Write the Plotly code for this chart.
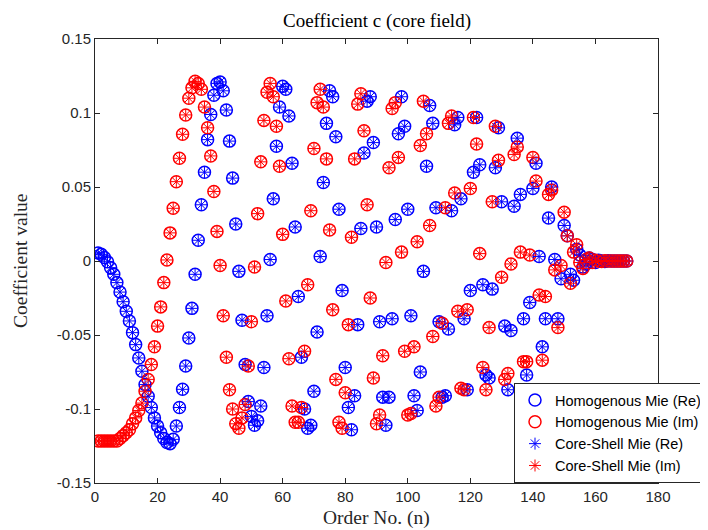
import plotly.graph_objects as go

order_n = list(range(1, 171))

coef_re = [
    0.0054, 0.0045, 0.0023, -0.0005, -0.0045, -0.009, -0.0146, -0.021, -0.0275, -0.034,
    -0.0405, -0.0484, -0.0565, -0.0655, -0.0745, -0.0835, -0.0914, -0.099, -0.106, -0.1115,
    -0.116, -0.120, -0.1227, -0.1234, -0.1205, -0.1115, -0.099, -0.0867, -0.071, -0.052,
    -0.032, -0.009, 0.014, 0.038, 0.060, 0.082, 0.099, 0.112, 0.120, 0.121,
    0.115, 0.102, 0.081, 0.056, 0.025, -0.007, -0.040, -0.070, -0.095, -0.105,
    -0.111, -0.108, -0.098, -0.072, -0.037, 0.001, 0.042, 0.0775, 0.104, 0.118,
    0.116, 0.098, 0.066, 0.023, -0.024, -0.065, -0.100, -0.113, -0.111, -0.088,
    -0.048, 0.003, 0.053, 0.093, 0.115, 0.111, 0.084, 0.035, -0.020, -0.072,
    -0.099, -0.114, -0.091, -0.043, 0.022, 0.073, 0.108, 0.111, 0.080, 0.023,
    -0.041, -0.092, -0.111, -0.092, -0.039, 0.028, 0.086, 0.111, 0.091, 0.035,
    -0.037, -0.091, -0.101, -0.075, -0.007, 0.064, 0.105, 0.093, 0.036, -0.041,
    -0.092, -0.091, -0.046, 0.034, 0.092, 0.097, 0.042, -0.039, -0.087, -0.020,
    0.060, 0.097, 0.065, -0.016, -0.077, -0.079, -0.019, 0.063, 0.090, 0.040,
    -0.044, -0.087, -0.047, 0.037, 0.083, 0.045, -0.039, -0.077, -0.028, 0.049,
    0.066, 0.003, -0.058, -0.039, 0.029, 0.050, 0.001, -0.039, -0.012, 0.024,
    0.017, -0.009, -0.013, 0.008, 0.004, -0.004, -0.002, 0.002, 0.001, -0.001,
    0.0005, 0.0, -0.0003, 0.0002, 0.0, 0.0, 0.0, 0.0, 0.0, 0.0,
]

coef_im = [
    -0.1216, -0.1216, -0.1216, -0.1216, -0.1216, -0.1216, -0.1216, -0.120, -0.118, -0.116,
    -0.114, -0.110, -0.106, -0.101, -0.096, -0.088, -0.080, -0.070, -0.058, -0.044,
    -0.031, -0.0146, 0.0007, 0.019, 0.0356, 0.0536, 0.0694, 0.0856, 0.0987, 0.110,
    0.117, 0.1214, 0.120, 0.116, 0.104, 0.090, 0.071, 0.047, 0.020, -0.003,
    -0.037, -0.065, -0.087, -0.100, -0.110, -0.113, -0.106, -0.097, -0.071, -0.041,
    -0.004, 0.032, 0.067, 0.095, 0.114, 0.120, 0.111, 0.091, 0.064, 0.018,
    -0.027, -0.066, -0.098, -0.109, -0.109, -0.099, -0.061, -0.016, 0.034, 0.076,
    0.107, 0.116, 0.104, 0.069, 0.021, -0.033, -0.080, -0.109, -0.113, -0.089,
    -0.043, 0.016, 0.069, 0.106, 0.113, 0.088, 0.038, -0.025, -0.079, -0.110,
    -0.104, -0.064, -0.001, 0.063, 0.103, 0.107, 0.070, 0.006, -0.061, -0.104,
    -0.103, -0.058, 0.013, 0.078, 0.108, 0.086, 0.024, -0.051, -0.098, -0.092,
    -0.042, 0.036, 0.093, 0.098, 0.046, -0.034, -0.086, -0.087, -0.033, 0.049,
    0.097, 0.079, 0.005, -0.072, -0.087, -0.045, 0.040, 0.091, 0.068, -0.011,
    -0.080, -0.076, -0.002, 0.072, 0.077, 0.006, -0.068, -0.068, 0.004, 0.070,
    0.054, -0.023, -0.067, -0.024, 0.045, 0.048, -0.006, -0.045, -0.003, 0.033,
    0.017, -0.015, 0.006, 0.011, -0.001, -0.005, 0.001, 0.002, -0.001, 0.0005,
    0.0, -0.0003, 0.0002, 0.0, 0.0, 0.0, 0.0, 0.0, 0.0, 0.0,
]

# core-shell solution coincides with the homogeneous one
cs_re = list(coef_re)
cs_im = list(coef_im)

x_ticks = [0, 20, 40, 60, 80, 100, 120, 140, 160, 180]
y_ticks = [-0.15, -0.1, -0.05, 0, 0.05, 0.1, 0.15]
y_tick_text = ["-0.15", "-0.1", "-0.05", "0", "0.05", "0.1", "0.15"]

series_names = ["Homogenous Mie (Re)", "Homogenous Mie (Im)",
                "Core-Shell Mie (Re)", "Core-Shell Mie (Im)"]

AX = "#262626"
SANS = "Liberation Sans"
SERIF = "Liberation Serif"

fig = go.Figure()
fig.add_trace(go.Scatter(x=order_n, y=coef_re, mode="markers", name=series_names[0],
                         marker=dict(symbol="circle-open", size=12, color="#0000FF",
                                     line=dict(width=1.5, color="#0000FF"))))
fig.add_trace(go.Scatter(x=order_n, y=coef_im, mode="markers", name=series_names[1],
                         marker=dict(symbol="circle-open", size=12, color="#FF0000",
                                     line=dict(width=1.5, color="#FF0000"))))
fig.add_trace(go.Scatter(x=order_n, y=cs_re, mode="markers", name=series_names[2],
                         marker=dict(symbol="asterisk-open", size=10, color="#0000FF",
                                     line=dict(width=1, color="#0000FF"))))
fig.add_trace(go.Scatter(x=order_n, y=cs_im, mode="markers", name=series_names[3],
                         marker=dict(symbol="asterisk-open", size=10, color="#FF0000",
                                     line=dict(width=1, color="#FF0000"))))

axis_common = dict(showline=True, linecolor=AX, linewidth=1, mirror="ticks",
                   ticks="inside", ticklen=5, tickwidth=1, tickcolor=AX,
                   showgrid=False, zeroline=False,
                   tickfont=dict(family=SANS, size=15, color=AX))

fig.update_xaxes(range=[0, 180], tickvals=x_ticks, **axis_common)
fig.update_yaxes(range=[-0.15, 0.15], tickvals=y_ticks, ticktext=y_tick_text, **axis_common)

fig.update_layout(
    width=708, height=530,
    margin=dict(l=87, r=58, t=31, b=55, autoexpand=False),
    paper_bgcolor="white", plot_bgcolor="white",
    showlegend=True,
    legend=dict(x=(506 - 87) / 563, y=0.0, xanchor="left", yanchor="bottom",
                bgcolor="white", bordercolor=AX, borderwidth=1,
                font=dict(family=SANS, size=14.5, color="black")),
    annotations=[
        dict(text="Coefficient c (core field)", xref="paper", yref="paper",
             x=0.5, y=1 + 18 / 444, xanchor="center", yanchor="middle", showarrow=False,
             font=dict(family=SERIF, size=19, color="black")),
        dict(text="Order No. (n)", xref="paper", yref="paper",
             x=0.5, y=-35 / 444, xanchor="center", yanchor="middle", showarrow=False,
             font=dict(family=SERIF, size=19.5, color=AX)),
        dict(text="Coefficient value", xref="paper", yref="paper",
             x=-75 / 563, y=0.5, xanchor="center", yanchor="middle", showarrow=False,
             textangle=-90, font=dict(family=SERIF, size=19.5, color=AX)),
    ],
)

fig.write_html("out.html")
